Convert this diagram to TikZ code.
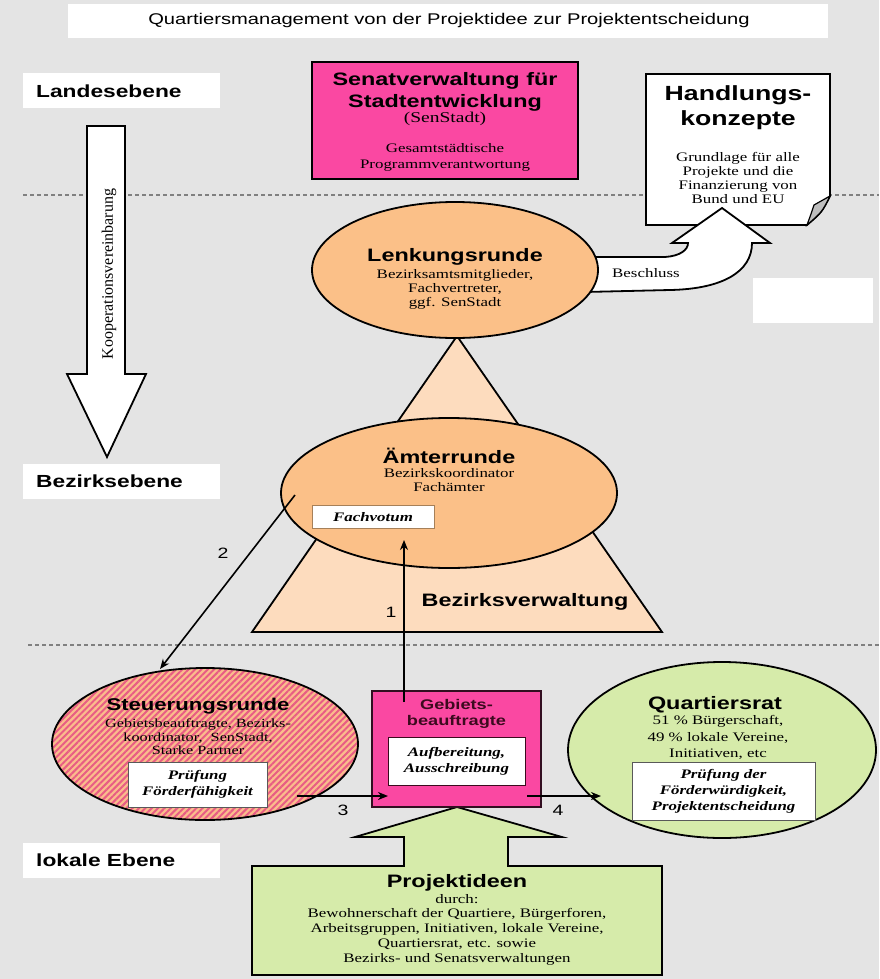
\documentclass[tikz,border=0pt]{standalone}
\usepackage{fontspec}
\setmainfont{Liberation Serif}[FakeStretch=1.3]
\newfontfamily\hsans{Liberation Sans}[FakeStretch=1.3]
\newfontfamily\plainserif{Liberation Serif}
\usetikzlibrary{shapes.geometric,arrows.meta,patterns.meta}

\definecolor{bg}{RGB}{228,228,228}
\definecolor{magentabox}{RGB}{250,72,162}
\definecolor{orangeell}{RGB}{251,192,136}
\definecolor{peach}{RGB}{253,220,190}
\definecolor{lightgreen}{RGB}{214,235,170}
\definecolor{stripeA}{RGB}{250,188,140}
\definecolor{stripeB}{RGB}{232,92,132}
\definecolor{dashgray}{RGB}{128,128,128}
\definecolor{darktext}{RGB}{60,10,30}
\definecolor{flapgray}{RGB}{190,190,190}

\tikzset{
  head/.style={font=\hsans\bfseries\fontsize{18}{21}\selectfont, inner sep=0, align=center},
  body/.style={font=\fontsize{13}{14}\selectfont, align=center, inner sep=0},
  ibody/.style={font=\bfseries\itshape\fontsize{13}{16}\selectfont, align=center, inner sep=0},
  levelbox/.style={fill=white, minimum width=197pt, minimum height=35pt, inner sep=0},
  leveltext/.style={font=\hsans\bfseries\fontsize{17.5}{20}\selectfont, inner sep=0, anchor=west},
  ell/.style={ellipse, draw=black, line width=1.8pt, inner sep=0},
  inbox/.style={rectangle, fill=white, draw=gray!70!black, line width=1pt, inner sep=0},
  conn/.style={line width=1.6pt, -{Stealth[length=10pt,width=8pt]}},
  numlabel/.style={font=\hsans\fontsize{15}{15}\selectfont, inner sep=0},
  dashline/.style={draw=dashgray, line width=1.6pt, dash pattern=on 4pt off 3pt},
  blockarrow/.style={fill=white, draw=black, line width=1.8pt, line join=miter},
}

\begin{document}
\begin{tikzpicture}[x=1pt,y=-1pt]
\useasboundingbox (0,0) rectangle (879,979);
\fill[bg] (0,0) rectangle (879,979);

% title
\node[fill=white, minimum width=760pt, minimum height=34pt, inner sep=0] (titlebox) at (448,21) {};
\node[font=\hsans\fontsize{15.5}{18}\selectfont, inner sep=0] (title) at (449,20) {Quartiersmanagement von der Projektidee zur Projektentscheidung};

% level labels
\node[levelbox] (lb1) at (121.5,91) {};
\node[leveltext] (lt1) at (36,91) {Landesebene};
\node[levelbox] (lb2) at (121.5,481.5) {};
\node[leveltext] (lt2) at (36,481.5) {Bezirksebene};
\node[levelbox] (lb3) at (121.5,860.5) {};
\node[leveltext] (lt3) at (36,860.5) {lokale Ebene};

% dashed separators
\coordinate (d1a) at (23,195); \coordinate (d1b) at (879,195);
\coordinate (d2a) at (28,645); \coordinate (d2b) at (879,645);
\draw[dashline] (d1a) -- (d1b);
\draw[dashline] (d2a) -- (d2b);

% Kooperationsvereinbarung arrow
\draw[blockarrow] (87,126) -- (125,126) -- (125,374) -- (146,374) -- (107,457) -- (67,374) -- (87,374) -- cycle;
\node[font=\plainserif\fontsize{16}{17}\selectfont, inner sep=0, rotate=90] (koop) at (109,274) {Kooperationsvereinbarung};

% Senatverwaltung
\node[rectangle, fill=magentabox, draw=black, line width=2.2pt, minimum width=266pt, minimum height=117pt, inner sep=0] (sen) at (445,120.5) {};
\node[head, font=\hsans\bfseries\fontsize{18}{22}\selectfont] (senh) at (445,92) {Senatverwaltung für\\Stadtentwicklung};
\node[body, font=\fontsize{15}{16}\selectfont] (sens) at (445,119) {(SenStadt)};
\node[body, font=\fontsize{13}{16}\selectfont] (senb) at (445,157) {Gesamtstädtische\\Programmverantwortung};

% Handlungskonzepte (note with folded corner)
\filldraw[fill=white, draw=black, line width=1.8pt, line join=miter] (646,74) -- (830,74) -- (830,196) .. controls (822,212) .. (807,225) -- (646,225) -- cycle;
\filldraw[fill=flapgray, draw=black, line width=1.2pt] (830,196) .. controls (822,200) .. (814,205) .. controls (811,214) .. (807,225) .. controls (822,212) .. (830,196);
\node[head, font=\hsans\bfseries\fontsize{20.5}{25}\selectfont] (hkh) at (738,108) {Handlungs-\\konzepte};
\node[body, font=\fontsize{13}{13.7}\selectfont] (hkb) at (738,178) {Grundlage für alle\\Projekte und die\\Finanzierung von\\Bund und EU};

% triangle Bezirksverwaltung
\filldraw[fill=peach, draw=black, line width=1.8pt, line join=miter] (457,336) -- (662,632) -- (252,632) -- cycle;
\node[head] (bzv) at (525,602) {Bezirksverwaltung};

% Beschluss arrow
\filldraw[blockarrow] (585,257) -- (665,257) .. controls (680,256) and (688,250) .. (688,243) -- (672,243) -- (722,208) -- (770,243) -- (752,243) .. controls (752,272) and (722,289) .. (670,290) -- (585,292) -- cycle;
\node[font=\fontsize{13}{14}\selectfont, inner sep=0] (besch) at (646,273) {Beschluss};

% white patch
\node[fill=white, minimum width=120pt, minimum height=45pt, inner sep=0] (patch) at (813,300.5) {};

% Lenkungsrunde
\node[ell, fill=orangeell, minimum width=286pt, minimum height=136pt] (lenk) at (455,270) {};
\node[head] (lenkh) at (455,257) {Lenkungsrunde};
\node[body] (lenkb) at (455,289) {Bezirksamtsmitglieder,\\Fachvertreter,\\ggf. SenStadt};

% Ämterrunde
\node[ell, fill=orangeell, minimum width=336pt, minimum height=150pt] (amt) at (449,493) {};
\node[head] (amth) at (449,456) {Ämterrunde};
\node[body] (amtb) at (449,480) {Bezirkskoordinator\\Fachämter};
\node[inbox, draw=brown!60!gray, minimum width=122pt, minimum height=23pt] (fv) at (373,516.5) {};
\node[ibody] (fvt) at (373,517) {Fachvotum};

% Steuerungsrunde
\node[ell, minimum width=306pt, minimum height=152pt, preaction={fill=stripeA}, pattern={Lines[angle=45,distance=4.5pt,line width=2pt]}, pattern color=stripeB] (st) at (205,744) {};
\node[head, font=\hsans\bfseries\fontsize{17}{20}\selectfont] (sth) at (198,706) {Steuerungsrunde};
\node[body, font=\fontsize{12.5}{13.5}\selectfont] (stb) at (198,737) {Gebietsbeauftragte, Bezirks-\\koordinator,\ \ SenStadt,\\Starke Partner};
\node[inbox, minimum width=139pt, minimum height=45pt] (pf) at (197.5,784.5) {};
\node[ibody] (pft) at (197.5,784) {Prüfung\\Förderfähigkeit};

% Projektideen block arrow
\filldraw[fill=lightgreen, draw=black, line width=1.8pt, line join=miter] (252,975) -- (252,866) -- (404,866) -- (404,837) -- (355,837) -- (457,807) -- (562,837) -- (508,837) -- (508,866) -- (662,866) -- (662,975) -- cycle;
\node[head] (pih) at (457,883) {Projektideen};
\node[body, font=\fontsize{13}{14.8}\selectfont] (pib) at (457,929.5) {durch:\\Bewohnerschaft der Quartiere, Bürgerforen,\\Arbeitsgruppen, Initiativen, lokale Vereine,\\Quartiersrat, etc. sowie\\Bezirks- und Senatsverwaltungen};

% Gebietsbeauftragte
\node[rectangle, fill=magentabox, draw=black!80!magentabox, line width=2pt, minimum width=169pt, minimum height=116pt, inner sep=0] (gb) at (456.5,749) {};
\node[head, font=\hsans\bfseries\fontsize{14}{16}\selectfont, text=darktext] (gbh) at (456.5,714) {Gebiets-\\beauftragte};
\node[inbox, draw=darktext, minimum width=137pt, minimum height=48pt] (ab) at (456.5,761) {};
\node[ibody] (abt) at (456.5,761) {Aufbereitung,\\Ausschreibung};

% Quartiersrat
\node[ell, fill=lightgreen, minimum width=308pt, minimum height=176pt] (qr) at (722,750) {};
\node[head] (qrh) at (715,705) {Quartiersrat};
\node[body, font=\fontsize{13}{16.5}\selectfont] (qrb) at (718,737.5) {51 \% Bürgerschaft,\\49 \% lokale Vereine,\\Initiativen, etc};
\node[inbox, minimum width=183pt, minimum height=58pt] (pq) at (723.5,791) {};
\node[ibody] (pqt) at (723.5,791) {Prüfung der\\Förderwürdigkeit,\\Projektentscheidung};

% connectors
\coordinate (c1s) at (404,702); \coordinate (c1e) at (404,540);
\coordinate (c2s) at (295,495); \coordinate (c2e) at (160,669);
\coordinate (c3s) at (297,796); \coordinate (c3e) at (388,796);
\coordinate (c4s) at (527,796); \coordinate (c4e) at (601,796);
\draw[conn] (c1s) -- (c1e);
\draw[conn] (c2s) -- (c2e);
\draw[conn] (c3s) -- (c3e);
\draw[conn] (c4s) -- (c4e);
\node[numlabel] (n1) at (391,612) {1};
\node[numlabel] (n2) at (223,553) {2};
\node[numlabel] (n3) at (343,810) {3};
\node[numlabel] (n4) at (558,810) {4};
\end{tikzpicture}
\end{document}
